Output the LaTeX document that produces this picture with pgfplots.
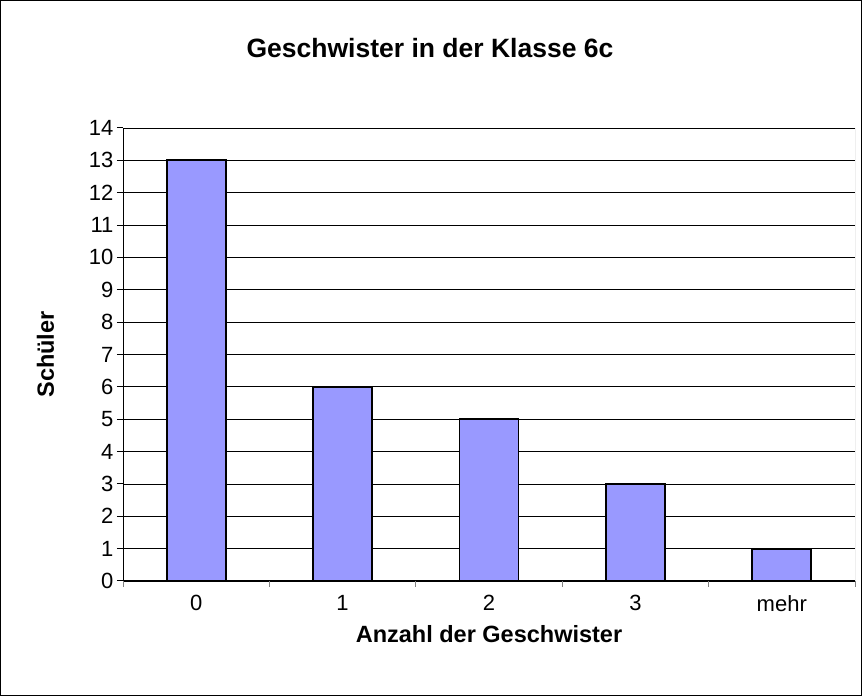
\documentclass[border=0pt]{standalone}
\usepackage{pgfplots}
\pgfplotsset{compat=1.18}
\usepackage{fontspec}
\setmainfont{Liberation Sans}
\definecolor{barblue}{RGB}{153,153,255}
\begin{document}
\begin{tikzpicture}[x=1pt,y=1pt]
\draw[black, line width=1pt] (0.5,0.5) rectangle (861.5,695.5);
\node[font=\bfseries\fontsize{26.5}{30}\selectfont] at (430,648) {Geschwister in der Klasse 6c};
\begin{axis}[
  at={(123pt,115pt)}, anchor=south west,
  scale only axis, width=732pt, height=453pt,
  xmin=-0.5, xmax=4.5, ymin=0, ymax=14,
  axis x line*=bottom, axis y line*=left,
  axis line style={black, line width=1pt, -},
  xtick={0,1,2,3,4},
  xticklabels={0,1,2,3,mehr},
  minor xtick={-0.5,0.5,1.5,2.5,3.5,4.5},
  ytick={0,1,...,14},
  major tick length=6pt, minor tick length=6pt,
  x tick style={draw=none},
  minor x tick style={draw=gray, line width=1pt},
  y tick style={black, line width=1pt},
  tick align=outside,
  ymajorgrids, grid style={black, line width=0.8pt},
  tick label style={font=\fontsize{22}{25}\selectfont},
  xticklabel style={yshift=-5pt},
  /pgf/number format/assume math mode=true,
  xlabel={\bfseries Anzahl der Geschwister},
  ylabel={\bfseries Schüler},
  label style={font=\bfseries\fontsize{23.5}{27}\selectfont},
  xlabel style={yshift=-7pt},
  ylabel style={yshift=28pt},
]
\addplot[ybar, bar width=59pt, fill=barblue, draw=black, line width=1.8pt]
  coordinates {(0,13) (1,6) (2,5) (3,3) (4,1)};
\draw[gray, line width=1pt] (rel axis cs:1,0) -- (rel axis cs:1,1);
\end{axis}
\end{tikzpicture}
\end{document}
